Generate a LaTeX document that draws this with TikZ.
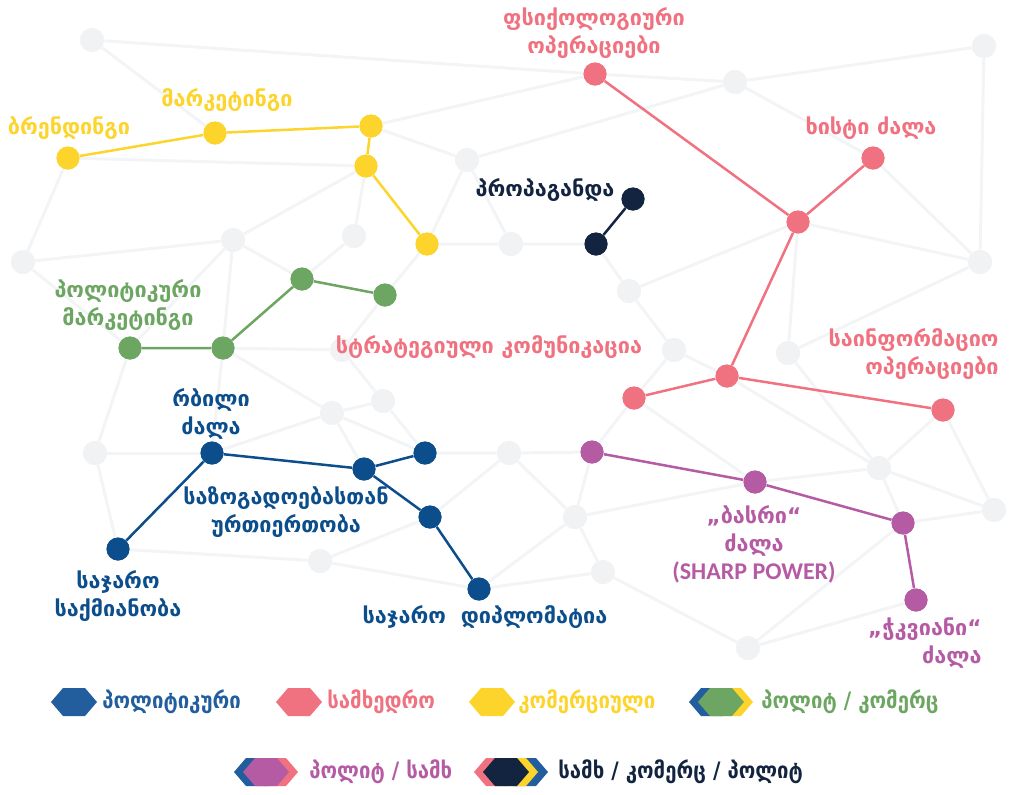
\documentclass[tikz,border=0pt]{standalone}
\usepackage{fontspec}
\setmainfont{DejaVu Sans}
\newfontfamily\condfont{DejaVu Sans Condensed}
\newfontfamily\latfont{Carlito}
\definecolor{polblue}{RGB}{12,78,140}
\definecolor{legblue}{RGB}{34,93,158}
\definecolor{milpink}{RGB}{240,114,128}
\definecolor{comyellow}{RGB}{253,212,44}
\definecolor{mixgreen}{RGB}{108,166,98}
\definecolor{mixpurple}{RGB}{180,91,164}
\definecolor{mixnavy}{RGB}{19,36,64}
\definecolor{netgray}{RGB}{241,242,244}
\definecolor{linegray}{RGB}{243,244,246}
\newcommand{\hexa}[3]{\fill[#1,shift={(#2,#3)}] (-23,0) -- (-11,-14) -- (11,-14) -- (23,0) -- (11,14) -- (-11,14) -- cycle;}

\begin{document}
\begin{tikzpicture}[x=0.5pt,y=-0.5pt]
\tikzstyle{gnode}=[circle,fill=netgray,minimum size=12pt,inner sep=0pt]
\tikzstyle{cnode}=[circle,minimum size=11.5pt,inner sep=0pt]
\tikzstyle{gline}=[draw=linegray,line width=1.5pt]
\tikzstyle{cline}=[line width=1.25pt]
\tikzstyle{lab}=[font=\bfseries\fontsize{10.8}{14}\selectfont,align=center,inner sep=0pt]
\tikzstyle{leg}=[font=\condfont\bfseries\fontsize{11.3}{12}\selectfont,anchor=west,inner sep=0pt]
\useasboundingbox (0,0) rectangle (1012,794);
% background net
\node [gnode] (g1) at (92,40) {};
\node [gnode] (g2) at (735,82) {};
\node [gnode] (g3) at (984,46) {};
\node [gnode] (g4) at (467,160) {};
\node [gnode] (g5) at (233,240) {};
\node [gnode] (g6) at (354,236) {};
\node [gnode] (g7) at (511,244) {};
\node [gnode] (g8) at (23,262) {};
\node [gnode] (g9) at (629,291) {};
\node [gnode] (g10) at (980,262) {};
\node [gnode] (g11) at (674,350) {};
\node [gnode] (g12) at (788,353) {};
\node [gnode] (g13) at (332,413) {};
\node [gnode] (g14) at (383,401) {};
\node [gnode] (g15) at (95,453) {};
\node [gnode] (g16) at (509,453) {};
\node [gnode] (g17) at (879,468) {};
\node [gnode] (g18) at (575,517) {};
\node [gnode] (g19) at (994,510) {};
\node [gnode] (g20) at (320,561) {};
\node [gnode] (g21) at (603,572) {};
\node [gnode] (g22) at (748,648) {};
\node [gnode] (g23) at (342,350) {};
% coloured points
\node [cnode,fill=comyellow] (y1) at (68,158) {};
\node [cnode,fill=comyellow] (y2) at (215,133) {};
\node [cnode,fill=comyellow] (y3) at (371,126) {};
\node [cnode,fill=comyellow] (y4) at (366,166) {};
\node [cnode,fill=comyellow] (y5) at (427,244) {};
\node [cnode,fill=mixnavy] (n1) at (633,199) {};
\node [cnode,fill=mixnavy] (n2) at (596,244) {};
\node [cnode,fill=mixgreen] (gr1) at (302,279) {};
\node [cnode,fill=mixgreen] (gr2) at (385,295) {};
\node [cnode,fill=mixgreen] (gr3) at (223,348) {};
\node [cnode,fill=mixgreen] (gr4) at (130,348) {};
\node [cnode,fill=milpink] (p1) at (595,74) {};
\node [cnode,fill=milpink] (p2) at (798,222) {};
\node [cnode,fill=milpink] (p3) at (873,158) {};
\node [cnode,fill=milpink] (p4) at (727,376) {};
\node [cnode,fill=milpink] (p5) at (634,398) {};
\node [cnode,fill=milpink] (p6) at (943,410) {};
\node [cnode,fill=polblue] (b1) at (212,453) {};
\node [cnode,fill=polblue] (b2) at (364,469) {};
\node [cnode,fill=polblue] (b3) at (425,453) {};
\node [cnode,fill=polblue] (b4) at (118,549) {};
\node [cnode,fill=polblue] (b5) at (430,517) {};
\node [cnode,fill=polblue] (b6) at (479,589) {};
\node [cnode,fill=mixpurple] (v1) at (592,452) {};
\node [cnode,fill=mixpurple] (v2) at (755,482) {};
\node [cnode,fill=mixpurple] (v3) at (903,523) {};
\node [cnode,fill=mixpurple] (v4) at (916,600) {};
% gray links
\draw [gline] (g1) -- (p1) -- (g2) -- (g3) -- (g10);
\draw [gline] (g1) -- (y2);
\draw [gline] (y1) -- (y4);
\draw [gline] (y1) -- (g8) -- (g5) -- (y4);
\draw [gline] (g8) -- (gr4);
\draw [gline] (g5) -- (gr4);
\draw [gline] (g5) -- (gr3);
\draw [gline] (g5) -- (gr1);
\draw [gline] (g6) -- (gr1);
\draw [gline] (g6) -- (y4);
\draw [gline] (gr4) -- (g15) -- (b4);
\draw [gline] (g15) -- (b1);
\draw [gline] (gr3) -- (b1);
\draw [gline] (gr3) -- (g23);
\draw [gline] (gr3) -- (g13);
\draw [gline] (b1) -- (g13) -- (g14);
\draw [gline] (g13) -- (b3);
\draw [gline] (g13) -- (b2);
\draw [gline] (g14) -- (b3);
\draw [gline] (g23) -- (g14);
\draw [gline] (gr2) -- (g23);
\draw [gline] (gr2) -- (y5);
\draw [gline] (y3) -- (g4) -- (g2);
\draw [gline] (y3) -- (p1);
\draw [gline] (g4) -- (y5);
\draw [gline] (g4) -- (g7);
\draw [gline] (y5) -- (g7) -- (n2) -- (g9);
\draw [gline] (g2) -- (p3) -- (g10);
\draw [gline] (p2) -- (g10) -- (g12) -- (g17);
\draw [gline] (p2) -- (g9) -- (g11) -- (p4);
\draw [gline] (p2) -- (g12);
\draw [gline] (g11) -- (p5);
\draw [gline] (p4) -- (g17);
\draw [gline] (p5) -- (v1) -- (g18);
\draw [gline] (p5) -- (v2);
\draw [gline] (b3) -- (g16) -- (v1);
\draw [gline] (g16) -- (g18) -- (g21) -- (g22);
\draw [gline] (g16) -- (b5);
\draw [gline] (g18) -- (v2);
\draw [gline] (g18) -- (b6);
\draw [gline] (g21) -- (b6);
\draw [gline] (g22) -- (v3);
\draw [gline] (g22) -- (v4);
\draw [gline] (v2) -- (g17) -- (v3);
\draw [gline] (g17) -- (p6) -- (g19);
\draw [gline] (g17) -- (g19);
\draw [gline] (v3) -- (g19);
\draw [gline] (b4) -- (g20) -- (b6);
\draw [gline] (g20) -- (b5);
% gray points again on top
\foreach \n in {g1,g2,g3,g4,g5,g6,g7,g8,g9,g10,g11,g12,g13,g14,g15,g16,g17,g18,g19,g20,g21,g22,g23}
  \fill [netgray] (\n) circle (6pt);
% coloured links
\draw [cline,comyellow] (y1) -- (y2) -- (y3) -- (y4) -- (y5);
\draw [cline,mixnavy] (n1) -- (n2);
\draw [cline,mixgreen] (gr2) -- (gr1) -- (gr3) -- (gr4);
\draw [cline,milpink] (p1) -- (p2) -- (p3);
\draw [cline,milpink] (p2) -- (p4) -- (p5);
\draw [cline,milpink] (p4) -- (p6);
\draw [cline,polblue] (b4) -- (b1) -- (b2) -- (b3);
\draw [cline,polblue] (b2) -- (b5) -- (b6);
\draw [cline,mixpurple] (v1) -- (v2) -- (v3) -- (v4);
\foreach \n/\c in {y1/comyellow,y2/comyellow,y3/comyellow,y4/comyellow,y5/comyellow,n1/mixnavy,n2/mixnavy,gr1/mixgreen,gr2/mixgreen,gr3/mixgreen,gr4/mixgreen,p1/milpink,p2/milpink,p3/milpink,p4/milpink,p5/milpink,p6/milpink,b1/polblue,b2/polblue,b3/polblue,b4/polblue,b5/polblue,b6/polblue,v1/mixpurple,v2/mixpurple,v3/mixpurple,v4/mixpurple}
  \fill [\c] (\n) circle (5.75pt);
% labels
\node [lab,text=milpink] (lpsy) at (594,33) {ფსიქოლოგიური\\ოპერაციები};
\node [lab,text=comyellow] (lmark) at (227,100) {მარკეტინგი};
\node [lab,text=comyellow] (lbrand) at (69,128) {ბრენდინგი};
\node [lab,text=milpink] (lhard) at (871,128) {ხისტი ძალა};
\node [lab,text=mixnavy] (lprop) at (545,190) {პროპაგანდა};
\node [lab,text=mixgreen] (lpolm) at (128,305) {პოლიტიკური\\მარკეტინგი};
\node [lab,text=milpink] (lstrat) at (489,347) {სტრატეგიული კომუნიკაცია};
\node [lab,text=milpink,align=right,anchor=east] (linfo) at (999,354) {საინფორმაციო\\ოპერაციები};
\node [lab,text=polblue] (lsoft) at (211,414) {რბილი\\ძალა};
\node [lab,text=polblue] (lpr) at (286,512) {საზოგადოებასთან\\ურთიერთობა};
\node [lab,text=polblue] (lpub) at (118,596) {საჯარო\\საქმიანობა};
\node [lab,text=polblue] (ldipl) at (485,617) {საჯარო~~დიპლომატია};
\node [lab,text=mixpurple] (lsharp) at (754,544) {„ბასრი“\\ძალა\\{\latfont\fontsize{12}{14}\selectfont (SHARP POWER)}};
\node [lab,text=mixpurple,align=right,anchor=east] (lsmart) at (982,643) {„ჭკვიანი“\\ძალა};
% legend
\hexa{legblue}{74}{702}
\node [leg,text=legblue] (t1) at (102,702) {პოლიტიკური};
\hexa{milpink}{299}{702}
\node [leg,text=milpink] (t2) at (327,702) {სამხედრო};
\hexa{comyellow}{492}{702}
\node [leg,text=comyellow] (t3) at (518,702) {კომერციული};
\hexa{legblue}{712}{702}
\hexa{comyellow}{730}{702}
\hexa{mixgreen}{721}{702}
\node [leg,text=mixgreen] (t4) at (761,702) {პოლიტ / კომერც};
\hexa{legblue}{257}{772}
\hexa{milpink}{275}{772}
\hexa{mixpurple}{266}{772}
\node [leg,text=mixpurple] (t5) at (309,772) {პოლიტ / სამხ};
\hexa{milpink}{497}{772}
\hexa{legblue}{525}{772}
\hexa{comyellow}{515}{772}
\hexa{mixnavy}{506}{772}
\node [leg,text=mixnavy] (t6) at (558,772) {სამხ / კომერც / პოლიტ};
\end{tikzpicture}
\end{document}
